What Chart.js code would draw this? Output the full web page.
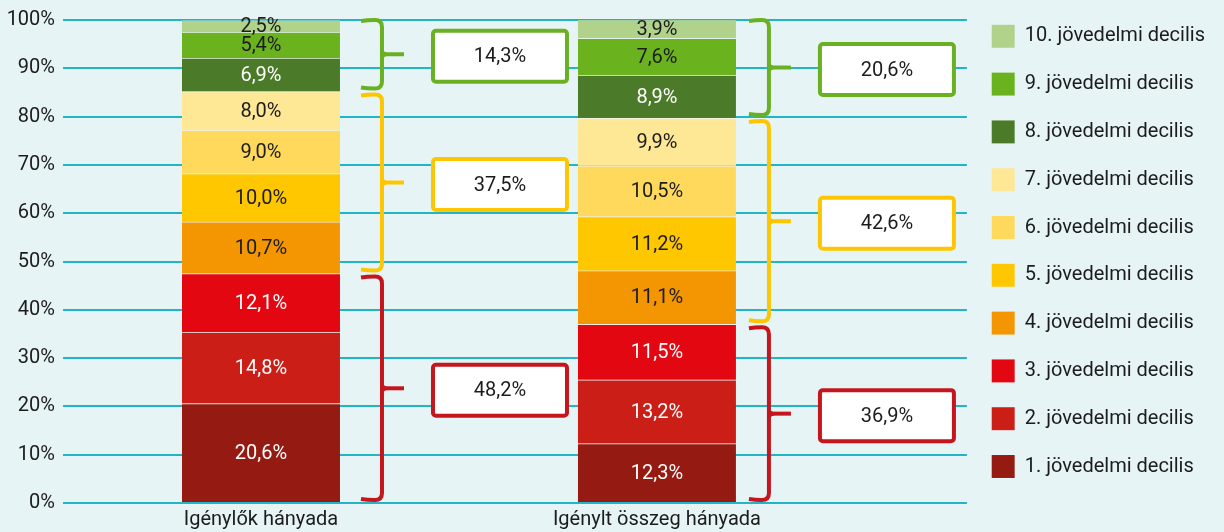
<!DOCTYPE html>
<html lang="hu">
<head>
<meta charset="utf-8">
<title>Jövedelmi decilisek</title>
<script src="https://cdn.jsdelivr.net/npm/chart.js@4.4.1/dist/chart.umd.min.js"></script>
<style>
  html, body { margin: 0; padding: 0; background: #e6f4f6; }
  #wrap { width: 1224px; height: 532px; }
</style>
</head>
<body>
<div id="wrap"><canvas id="chart" width="1224" height="532"></canvas></div>
<script>
// ── Data ───────────────────────────────────────────────────────
const categories = ['Igénylők hányada', 'Igénylt összeg hányada'];
const deciles = [
  '1. jövedelmi decilis', '2. jövedelmi decilis', '3. jövedelmi decilis',
  '4. jövedelmi decilis', '5. jövedelmi decilis', '6. jövedelmi decilis',
  '7. jövedelmi decilis', '8. jövedelmi decilis', '9. jövedelmi decilis',
  '10. jövedelmi decilis'
];
const applicantShare = [20.6, 14.8, 12.1, 10.7, 10.0, 9.0, 8.0, 6.9, 5.4, 2.5];
const amountShare    = [12.3, 13.2, 11.5, 11.1, 11.2, 10.5, 9.9, 8.9, 7.6, 3.9];
const yTicks = [0, 10, 20, 30, 40, 50, 60, 70, 80, 90, 100];

// decile groups (lower 3, middle 4, upper 3) and their totals per bar
const groupRanges = [[0, 3], [3, 7], [7, 10]];
const applicantGroupTotals = [48.2, 37.5, 14.3];
const amountGroupTotals    = [36.9, 42.6, 20.6];

// ── Styles ─────────────────────────────────────────────────────
const FONT = 'Roboto, "DejaVu Sans", sans-serif';
const TEXT = '#1c1c1c';
const decileColors = ['#941a12', '#cb1e17', '#e30712', '#f39601', '#fec700',
                      '#fed95c', '#fee896', '#4b7b28', '#6bb21f', '#b0d28a'];
const labelColors  = ['#fff', '#fff', '#fff', TEXT, TEXT, TEXT, TEXT, '#fff', TEXT, TEXT];
const groupColors  = ['#c4161c', '#fec600', '#6ab023'];
// brace offsets from the right edge of each bar: tip, stem, spike, box
const braceOffsets = [
  { tip: 21, stem: 42, spike: 64, box: 93 },
  { tip: 13, stem: 33, spike: 55, box: 84 },
];

const pct = v => v.toFixed(1).replace('.', ',') + '%';

// ── Plugins ────────────────────────────────────────────────────
const background = {
  id: 'background',
  beforeDraw(chart) {
    const { ctx, width, height } = chart;
    ctx.save();
    ctx.fillStyle = '#e6f4f6';
    ctx.fillRect(0, 0, width, height);
    ctx.restore();
  }
};

const barLabels = {
  id: 'barLabels',
  afterDatasetsDraw(chart) {
    const { ctx } = chart;
    ctx.save();
    ctx.font = `20px ${FONT}`;
    ctx.textAlign = 'center';
    ctx.textBaseline = 'middle';
    chart.data.datasets.forEach((ds, i) => {
      chart.getDatasetMeta(i).data.forEach((bar, j) => {
        const top = Math.max(bar.y, chart.chartArea.top);
        ctx.fillStyle = labelColors[i];
        ctx.fillText(pct(ds.data[j].y), bar.x, (top + bar.base) / 2 + 1);
      });
    });
    ctx.restore();
  }
};

const braces = {
  id: 'braces',
  afterDatasetsDraw(chart) {
    const { ctx } = chart;
    const yScale = chart.scales.y;
    const bars = chart.getDatasetMeta(0).data;
    const seriesList = [applicantShare, amountShare];
    const totalsList = [applicantGroupTotals, amountGroupTotals];

    ctx.save();
    ctx.lineWidth = 4;
    ctx.lineCap = 'butt';
    ctx.lineJoin = 'round';

    bars.forEach((bar, b) => {
      const right = bar.x + bar.width / 2;
      const off = braceOffsets[b];
      const x0 = right + off.tip, xv = right + off.stem, xs = right + off.spike;
      const series = seriesList[b];

      groupRanges.forEach(([from, to], g) => {
        const lo = series.slice(0, from).reduce((a, v) => a + v, 0);
        const hi = Math.min(100, series.slice(0, to).reduce((a, v) => a + v, 0));
        const yTop = yScale.getPixelForValue(hi) + (hi >= 100 ? 0 : 3);
        const yBot = yScale.getPixelForValue(lo) - 3;
        const mid = (yTop + yBot) / 2;
        const r = 7;
        const color = groupColors[g];

        ctx.strokeStyle = color;
        ctx.beginPath();
        ctx.moveTo(x0, yTop + 1);
        ctx.quadraticCurveTo(x0 + 6, yTop, xv - r, yTop);
        ctx.quadraticCurveTo(xv, yTop, xv, yTop + r);
        ctx.lineTo(xv, yBot - r);
        ctx.quadraticCurveTo(xv, yBot, xv - r, yBot);
        ctx.quadraticCurveTo(x0 + 6, yBot, x0, yBot - 1);
        ctx.stroke();

        ctx.beginPath();
        ctx.moveTo(xv, mid);
        ctx.lineTo(xs, mid);
        ctx.stroke();

        ctx.fillStyle = color;
        ctx.beginPath();
        ctx.moveTo(xv, mid - 7);
        ctx.quadraticCurveTo(xv + 1, mid - 1, xv + 9, mid - 1);
        ctx.lineTo(xv + 9, mid + 1);
        ctx.quadraticCurveTo(xv + 1, mid + 1, xv, mid + 7);
        ctx.closePath();
        ctx.fill();

        // value box
        const bw = 134, bh = 51;
        const bx = right + off.box, by = mid - bh / 2 + 2;
        ctx.fillStyle = '#ffffff';
        ctx.beginPath();
        ctx.roundRect(bx, by, bw, bh, 3);
        ctx.fill();
        ctx.stroke();

        ctx.fillStyle = TEXT;
        ctx.font = `20px ${FONT}`;
        ctx.textAlign = 'center';
        ctx.textBaseline = 'middle';
        ctx.fillText(pct(totalsList[b][g]), bx + bw / 2, by + bh / 2 + 1);
      });
    });
    ctx.restore();
  }
};

// ── Chart ──────────────────────────────────────────────────────
const datasets = deciles.map((name, i) => ({
  label: name,
  data: [
    { x: 1, y: applicantShare[i] },
    { x: 2, y: amountShare[i] },
  ],
  backgroundColor: decileColors[i],
  borderColor: 'rgba(255,255,255,0.25)',
  borderWidth: { top: 1 },
  borderSkipped: 'bottom',
  barThickness: 158,
}));

new Chart(document.getElementById('chart'), {
  type: 'bar',
  data: { datasets },
  plugins: [background, barLabels, braces],
  options: {
    responsive: false,
    animation: false,
    layout: { padding: { left: 0, right: 9, top: 0, bottom: 0 } },
    plugins: {
      tooltip: { enabled: false },
      title: {
        display: true,
        text: '',
        fullSize: false,
        font: { size: 1, lineHeight: 1 },
        padding: { top: 18, bottom: 0 },
      },
      legend: {
        position: 'right',
        align: 'start',
        reverse: true,
        labels: {
          boxWidth: 23,
          boxHeight: 23,
          padding: 24.8,
          color: TEXT,
          font: { family: FONT, size: 20 },
        }
      }
    },
    scales: {
      x: {
        type: 'linear',
        stacked: true,
        offset: false,
        min: 0.5,
        max: 0.5 + 904 / 396,
        afterBuildTicks: axis => { axis.ticks = [{ value: 1 }, { value: 2 }]; },
        afterFit: axis => { axis.height = 29; },
        ticks: {
          color: TEXT,
          font: { family: FONT, size: 20 },
          padding: 5,
          callback: v => categories[v - 1],
        },
        grid: { display: false, drawTicks: false, offset: false },
        border: { display: false },
      },
      y: {
        stacked: true,
        min: 0,
        max: 100,
        afterBuildTicks: axis => { axis.ticks = yTicks.map(v => ({ value: v })); },
        afterFit: axis => { axis.width = 63; },
        ticks: {
          color: TEXT,
          font: { family: FONT, size: 20 },
          padding: 8,
          callback: v => v + '%',
        },
        grid: { color: '#22b5c8', lineWidth: 2, drawTicks: false },
        border: { display: false },
      }
    }
  }
});
</script>
</body>
</html>
